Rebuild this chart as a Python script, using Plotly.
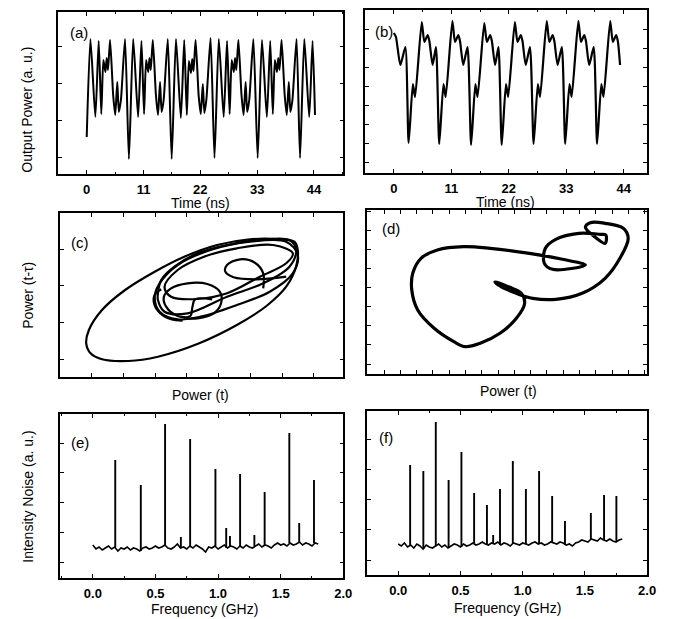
import numpy as np
import plotly.graph_objects as go

W, H = 674, 619
OX, OY = 8, 8            # page body margin offset
FW, FH = W - OX, H - OY  # figure size

# ---------------- (a) time series ----------------
a_time = [0.0, 0.72, 1.67, 2.32, 2.82, 3.22, 3.62, 3.87, 4.12, 4.52, 5.12, 5.52, 5.92, 6.22, 6.62, 7.42, 8.17,
          9.0, 9.95, 10.6, 11.1, 11.5, 11.9, 12.15, 12.4, 12.8, 13.4, 13.8, 14.2, 14.5, 14.9, 15.7, 16.45,
          17.28, 18.23, 18.88, 19.38, 19.78, 20.18, 20.43, 20.68, 21.08, 21.68, 22.08, 22.48, 22.78, 23.18, 23.98, 24.74,
          25.57, 26.52, 27.17, 27.67, 28.07, 28.47, 28.72, 28.97, 29.37, 29.97, 30.37, 30.77, 31.07, 31.47, 32.27, 33.1,
          33.93, 34.88, 35.53, 36.03, 36.43, 36.83, 37.08, 37.33, 37.73, 38.33, 38.73, 39.13, 39.43, 39.83, 40.63, 41.3,
          42.13, 43.08, 43.73, 44.2]
a_power = [3.7, 13.5, 5.7, 13.3, 6.0, 11.4, 10.2, 11.6, 10.4, 13.4, 7.9, 5.9, 9.2, 6.2, 7.4, 13.5, 1.5,
           13.5, 5.7, 13.3, 6.0, 11.4, 10.2, 11.6, 10.4, 13.4, 7.9, 5.9, 9.2, 6.2, 7.4, 13.5, 1.5,
           13.5, 5.6, 13.4, 5.9, 11.3, 10.1, 11.5, 10.3, 13.4, 7.8, 6.0, 9.0, 6.1, 7.5, 13.6, 1.6,
           13.5, 5.7, 13.3, 6.0, 11.4, 10.2, 11.6, 10.4, 13.4, 7.9, 5.9, 9.2, 6.2, 7.4, 13.5, 1.6,
           13.4, 5.7, 13.3, 6.0, 11.4, 10.2, 11.6, 10.4, 13.4, 7.9, 5.9, 9.2, 6.2, 7.4, 13.5, 1.6,
           13.5, 5.7, 13.3, 5.9]

# ---------------- (b) time series ----------------
b_time = [0.0, 0.4, 1.25, 2.2, 2.83,
          3.64, 4.06, 5.34, 5.85, 6.48, 6.80, 7.42, 8.06, 8.69,
          9.50, 9.92, 11.20, 11.71, 12.34, 12.66, 13.28, 14.10, 14.79,
          15.60, 16.02, 17.30, 17.81, 18.44, 18.76, 19.38, 20.02, 20.65,
          21.46, 21.88, 23.16, 23.67, 24.30, 24.62, 25.24, 26.05, 26.75,
          27.56, 27.98, 29.26, 29.77, 30.40, 30.72, 31.34, 32.15, 32.8,
          33.61, 34.03, 35.31, 35.82, 36.45, 36.77, 37.39, 38.25, 38.9,
          39.71, 40.13, 41.41, 41.92, 42.55, 42.87, 43.3]
b_power = [14.0, 13.6, 10.8, 12.6, 3.0,
           8.9, 7.6, 15.1, 13.1, 13.8, 13.2, 10.8, 12.6, 2.9,
           8.9, 7.6, 15.2, 13.1, 13.8, 13.2, 10.8, 12.6, 2.8,
           8.9, 7.6, 15.0, 13.1, 13.8, 13.2, 10.8, 12.6, 2.8,
           8.9, 7.6, 15.1, 13.1, 13.8, 13.2, 10.8, 12.6, 2.9,
           8.9, 7.6, 15.2, 13.1, 13.8, 13.2, 10.8, 12.6, 2.9,
           8.9, 7.6, 15.2, 13.1, 13.8, 13.2, 10.8, 12.6, 2.9,
           8.9, 7.6, 15.2, 13.1, 13.8, 13.2, 10.8]

# ---------------- (c) phase portrait loops ----------------
c_outer_x = [26.3, 30.7, 42.3, 69, 99, 139, 179, 209, 229, 239, 240.7, 237.3, 222.3, 192.3, 159, 125.7, 95.7, 65.7, 42.3, 29, 26.3]
c_outer_y = [33.7, 23.7, 17.7, 16, 20.3, 33, 52, 71, 90.3, 110.3, 127, 135.3, 137.7, 137.7, 132, 120.3, 105.3, 87, 67, 47, 33.7]
c_loop1_x = [99, 102.3, 115.7, 139, 169, 202.3, 232.3, 239, 232.3, 205.7, 169, 129, 105.7, 99, 99]
c_loop1_y = [83.7, 97, 110.3, 123.7, 132, 137, 137, 127, 110.3, 93.7, 80.3, 63.7, 65.3, 77, 83.7]
c_loop2_x = [95.7, 100.7, 119, 152.3, 192.3, 229, 240.7, 235.7, 212.3, 179, 142.3, 119, 100.7, 95.7]
c_loop2_y = [80.3, 93.7, 112, 127, 135.3, 135.3, 122, 103.7, 85.3, 72, 60.3, 57.7, 65.3, 80.3]
c_loop3_x = [105.7, 119, 145.7, 179, 215.7, 235.7, 229, 202.3, 169, 139, 112.3, 105.7]
c_loop3_y = [90.3, 107, 120.3, 128.7, 132, 123.7, 113.7, 100.3, 83.7, 78, 80.3, 90.3]
c_small_x = [205.7, 205.7, 197.3, 182.3, 169, 167.3, 175.7, 199, 229]
c_small_y = [88.7, 103.7, 114.3, 117.7, 112, 105.3, 99.7, 97.7, 100.3]
c_notch_x = [154, 136.7, 134, 131.7, 119, 107.3, 105, 112.3, 129, 149, 161.7, 163, 155.7, 139, 125.7]
c_notch_y = [77.7, 77.7, 70.3, 61, 61, 70.3, 80.3, 88.7, 93.7, 93, 85.3, 73.7, 63.7, 58.7, 58.7]
c_left_x = [102.3, 95.7, 95, 100.7, 112.3, 124]
c_left_y = [87.7, 82, 73.7, 64.3, 57.7, 56.3]

# ---------------- (d) phase portrait ----------------
d_x = [221.3, 198, 164.7, 124.7, 98, 71.3, 54.7, 46.3, 45.3, 51.3, 68, 88, 99.7, 114.7, 134.7, 151.3, 159.7,
       156.3, 144.7, 129.7, 134.7, 151.3, 168, 191.3, 218, 241.3, 256.3, 264.7, 259.7, 241.3, 226.3, 221.3,
       229.7, 241.3, 242, 236.3, 214.7, 191.3, 180.7, 179.7, 188, 221.3]
d_y = [109, 114.7, 120.7, 125.7, 127.3, 124, 115.7, 100.7, 84, 64, 45.7, 32.3, 27.3, 30.7, 40.7, 55.7, 70.7,
       80.7, 86.7, 92.3, 88, 80.7, 75.7, 74.7, 80.7, 95.7, 115.7, 135.7, 145.7, 150.7, 151.3, 146.7,
       138, 130.7, 139, 139.7, 140.7, 134.7, 125.7, 110.7, 104.7, 109]

# ---------------- (e) spectrum ----------------
freq_step = 0.025
e_floor = [33, 29, 31, 28, 30, 32, 29, 31, 27, 30, 29, 31, 28, 30, 29, 27, 30, 31, 29, 30, 32, 30, 31, 33,
           30, 29, 31, 34, 30, 31, 29, 32, 30, 33, 31, 29, 26, 31, 30, 32, 29, 31, 33, 30, 32, 31, 29, 32,
           30, 33, 31, 30, 32, 34, 31, 33, 32, 30, 33, 35, 33, 34, 32, 35, 33, 34, 36, 33, 35, 34, 32, 35, 34]
e_peak_f = [0.179, 0.383, 0.577, 0.703, 0.777, 0.979, 1.065, 1.095, 1.176, 1.29, 1.372, 1.569, 1.648, 1.766]
e_peak_h = [118, 93, 154, 41, 139, 109, 50, 42, 104, 43, 86, 145, 55, 98]

# ---------------- (f) spectrum ----------------
f_floor = [31, 29, 32, 28, 30, 27, 31, 29, 26, 30, 28, 27, 29, 31, 28, 30, 27, 29, 31, 30, 28, 31, 29, 30,
           32, 30, 31, 33, 31, 30, 32, 31, 33, 30, 32, 31, 29, 32, 31, 30, 32, 31, 30, 32, 33, 31, 32, 30,
           31, 33, 32, 31, 33, 32, 30, 31, 29, 32, 33, 35, 34, 33, 36, 35, 34, 37, 35, 34, 36, 34, 33, 35, 36]
f_peak_f = [0.096, 0.202, 0.302, 0.405, 0.508, 0.61, 0.713, 0.763, 0.818, 0.921, 1.026, 1.132, 1.237, 1.34, 1.548, 1.654, 1.753]
f_peak_h = [110, 104, 153, 95, 123, 82, 70, 40, 86, 114, 86, 104, 79, 54, 62, 80, 79]

time_ticks = [0, 11, 22, 33, 44]
freq_ticks = [0.0, 0.5, 1.0, 1.5, 2.0]

FONT = "Arial, Liberation Sans, Helvetica, sans-serif"
BLACK = "black"

fig = go.Figure()


def add(x, y, n, width=1.8, shape="spline", smooth=0.8):
    fig.add_trace(go.Scatter(x=x, y=y, mode="lines", xaxis=f"x{n}", yaxis=f"y{n}",
                             line=dict(color=BLACK, width=width, shape=shape, smoothing=smooth),
                             hoverinfo="skip", showlegend=False))


add(a_time, a_power, 1, width=2.0, smooth=0.6)
add(b_time, b_power, 2, width=2.2, smooth=0.6)
for lx, ly in [(c_outer_x, c_outer_y), (c_loop1_x, c_loop1_y), (c_loop2_x, c_loop2_y),
               (c_loop3_x, c_loop3_y), (c_small_x, c_small_y), (c_notch_x, c_notch_y),
               (c_left_x, c_left_y)]:
    add(lx, ly, 3, width=2.2, smooth=1.0)
add(d_x, d_y, 4, width=3.2, smooth=1.0)


def spectrum(floor, pf, ph, n):
    fx = [i * freq_step for i in range(len(floor))]
    add(fx, floor, n, width=1.6, shape="linear")
    sx, sy = [], []
    for f, h in zip(pf, ph):
        base = floor[min(int(round(f / freq_step)), len(floor) - 1)]
        sx += [f, f, None]
        sy += [base, h, None]
    add(sx, sy, n, width=1.9, shape="linear")


spectrum(e_floor, e_peak_f, e_peak_h, 5)
spectrum(f_floor, f_peak_f, f_peak_h, 6)

# panel boxes in page pixels (left, right, top, bottom)
boxes = {1: (59, 348, 12, 174), 2: (370, 656, 10, 173), 3: (61, 348, 213, 377),
         4: (372, 656, 210, 374), 5: (61, 348, 414, 578), 6: (372, 656, 411, 575)}

base_ax = dict(showline=True, linecolor=BLACK, linewidth=1.5, mirror="ticks", ticks="inside",
               ticklen=4, tickwidth=1.2, tickcolor=BLACK, showgrid=False, zeroline=False,
               tickfont=dict(family=FONT, size=13, color=BLACK, weight="bold"))

xcfg = {
    1: dict(range=[-5.5, 49.7], tickmode="array", tickvals=time_ticks, showticklabels=True,
            minor=dict(ticks="inside", ticklen=2, tickcolor=BLACK, dtick=5.5, tick0=0)),
    2: dict(range=[-5.5, 48.5], tickmode="array", tickvals=time_ticks, showticklabels=True,
            minor=dict(ticks="inside", ticklen=2, tickcolor=BLACK, dtick=5.5, tick0=0)),
    3: dict(range=[0, 287], tick0=31.7, dtick=32.2, showticklabels=False),
    4: dict(range=[0, 284], tick0=17.3, dtick=16.5, showticklabels=False),
    5: dict(range=[-0.26, 2.001], tickmode="array", tickvals=freq_ticks, tickformat=".1f", showticklabels=True,
            minor=dict(ticks="inside", ticklen=2, tickcolor=BLACK, dtick=0.25, tick0=0)),
    6: dict(range=[-0.25, 2.001], tickmode="array", tickvals=freq_ticks, tickformat=".1f", showticklabels=True,
            minor=dict(ticks="inside", ticklen=2, tickcolor=BLACK, dtick=0.25, tick0=0)),
}
ycfg = {
    1: dict(range=[0, 16.2], tick0=1.7, dtick=3.67),
    2: dict(range=[0, 16.3], tick0=1.1, dtick=1.9),
    3: dict(range=[0, 164], tick0=18, dtick=36.6),
    4: dict(range=[0, 164], tick0=10, dtick=19.1),
    5: dict(range=[0, 164], tick0=15.7, dtick=29.8),
    6: dict(range=[0, 164], tick0=15, dtick=30.2),
}

layout = dict(width=FW, height=FH, margin=dict(l=0, r=0, t=0, b=0), paper_bgcolor="white",
              plot_bgcolor="white", showlegend=False)
for n, (l, r, t, b) in boxes.items():
    xa = dict(base_ax, domain=[(l - OX) / FW, (r - OX) / FW], anchor=f"y{n}", ticklabelstandoff=3)
    xa.update(xcfg[n])
    ya = dict(base_ax, domain=[1 - (b - OY) / FH, 1 - (t - OY) / FH], anchor=f"x{n}", showticklabels=False)
    ya.update(ycfg[n])
    layout["xaxis" if n == 1 else f"xaxis{n}"] = xa
    layout["yaxis" if n == 1 else f"yaxis{n}"] = ya

fig.update_layout(**layout)


def note(text, px, py, size=14, angle=0, weight="normal"):
    fig.add_annotation(text=text, x=(px - OX) / FW, y=1 - (py - OY) / FH, xref="paper", yref="paper",
                       showarrow=False, textangle=angle, xanchor="center", yanchor="middle",
                       font=dict(family=FONT, size=size, color=BLACK, weight=weight))


for lab, px, py in [("(a)", 80, 33), ("(b)", 389, 31), ("(c)", 81, 242),
                    ("(d)", 396, 229), ("(e)", 81, 442), ("(f)", 391, 437)]:
    note(lab, px, py, size=15)

note("Output Power (a. u.)", 27, 110, angle=-90)
note("Power (t-τ)", 28, 295, angle=-90)
note("Intensity Noise (a. u.)", 28, 497, angle=-90)
note("Time (ns)", 203, 203)
note("Time (ns)", 512, 202)
note("Power (t)", 203, 395)
note("Power (t)", 515, 391)
note("Frequency (GHz)", 207, 609)
note("Frequency (GHz)", 514, 608)

fig.write_html("out.html")
